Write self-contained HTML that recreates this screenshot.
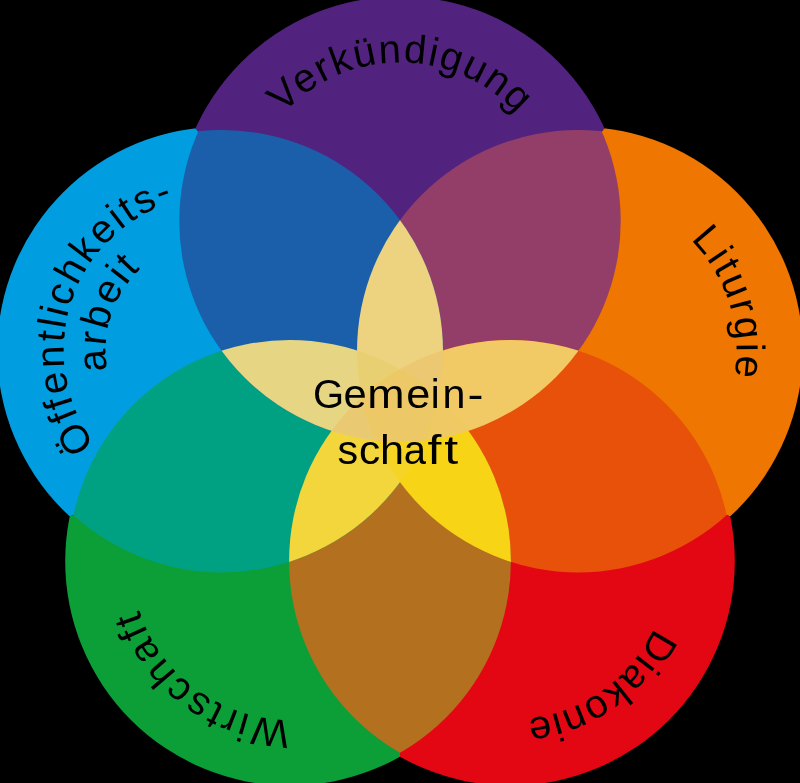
<!DOCTYPE html><html><head><meta charset="utf-8"><style>html,body{margin:0;padding:0;background:#000;width:800px;height:783px;overflow:hidden}svg{display:block}text{font-family:"Liberation Sans",sans-serif;fill:#000}</style></head><body>
<svg width="800" height="783" viewBox="0 0 800 783" style="will-change:transform"><defs>
<clipPath id="c0"><circle cx="400" cy="221" r="220.7"/></clipPath>
<clipPath id="w0"><polygon points="400,409 -482.96,-803.59 1282.96,-803.59"/></clipPath>
<clipPath id="c1"><circle cx="578.2" cy="351.2" r="221.2"/></clipPath>
<clipPath id="w1"><polygon points="400,409 1282.96,-803.59 1826.54,872.66"/></clipPath>
<clipPath id="c2"><circle cx="510.3" cy="561.2" r="221.2"/></clipPath>
<clipPath id="w2"><polygon points="400,409 1826.54,872.66 400,1909"/></clipPath>
<clipPath id="c3"><circle cx="289.7" cy="561.2" r="221.2"/></clipPath>
<clipPath id="w3"><polygon points="400,409 400,1909 -1026.54,872.66"/></clipPath>
<clipPath id="c4"><circle cx="221.8" cy="351.2" r="221.2"/></clipPath>
<clipPath id="w4"><polygon points="400,409 -1026.54,872.66 -482.96,-803.59"/></clipPath>
<path id="t0" d="M399.14,379.5 A158.5,158.5 0 0 1 400.86,62.5 A158.5,158.5 0 0 1 399.14,379.5"/>
<path id="t1" d="M426.89,398.39 A158.5,158.5 0 0 1 729.51,304.01 A158.5,158.5 0 0 1 426.89,398.39"/>
<path id="t2" d="M418.26,432.16 A158.5,158.5 0 0 1 602.34,690.24 A158.5,158.5 0 0 1 418.26,432.16"/>
<path id="t3" d="M383.44,433.39 A158.5,158.5 0 0 1 195.96,689.01 A158.5,158.5 0 0 1 383.44,433.39"/>
<path id="t4" d="M372.41,400.57 A158.5,158.5 0 0 1 71.19,301.83 A158.5,158.5 0 0 1 372.41,400.57"/>
<path id="t5" d="M332.34,387.97 A116.5,116.5 0 0 1 111.26,314.43 A116.5,116.5 0 0 1 332.34,387.97"/>
</defs>
<rect width="800" height="783" fill="#000"/>
<circle clip-path="url(#w0)" cx="400" cy="221" r="224.5" fill="#51237f"/>
<circle clip-path="url(#w1)" cx="578.2" cy="351.2" r="224.5" fill="#ee7601"/>
<circle clip-path="url(#w2)" cx="510.3" cy="561.2" r="224.5" fill="#e30613"/>
<circle clip-path="url(#w3)" cx="289.7" cy="561.2" r="224.5" fill="#0c9f38"/>
<circle clip-path="url(#w4)" cx="221.8" cy="351.2" r="224.5" fill="#009ee0"/>
<g clip-path="url(#c0)"><circle cx="578.2" cy="351.2" r="221.2" fill="#933e69"/></g>
<g clip-path="url(#c1)"><circle cx="510.3" cy="561.2" r="221.2" fill="#e8510a"/></g>
<g clip-path="url(#c2)"><circle cx="289.7" cy="561.2" r="221.2" fill="#b3701e"/></g>
<g clip-path="url(#c3)"><circle cx="221.8" cy="351.2" r="221.2" fill="#00a183"/></g>
<g clip-path="url(#c4)"><circle cx="400" cy="221" r="220.7" fill="#1b5faa"/></g>
<g clip-path="url(#c0)"><g clip-path="url(#c4)"><circle cx="578.2" cy="351.2" r="221.2" fill="#edd280"/></g></g>
<g clip-path="url(#c1)"><g clip-path="url(#c0)"><circle cx="510.3" cy="561.2" r="221.2" fill="#f1ca66"/></g></g>
<g clip-path="url(#c2)"><g clip-path="url(#c1)"><circle cx="289.7" cy="561.2" r="221.2" fill="#f8d417"/></g></g>
<g clip-path="url(#c3)"><g clip-path="url(#c2)"><circle cx="221.8" cy="351.2" r="221.2" fill="#f3d63b"/></g></g>
<g clip-path="url(#c4)"><g clip-path="url(#c3)"><circle cx="400" cy="221" r="220.7" fill="#e6d684"/></g></g>
<g clip-path="url(#c3)"><g clip-path="url(#c1)"><g clip-path="url(#c0)"><circle cx="221.8" cy="351.2" r="221.2" fill="#e8d072"/></g></g></g>
<g clip-path="url(#c2)"><g clip-path="url(#c1)"><g clip-path="url(#c0)"><circle cx="221.8" cy="351.2" r="221.2" fill="#edc872"/></g></g></g>
<g clip-path="url(#c3)"><g clip-path="url(#c2)"><g clip-path="url(#c0)"><circle cx="221.8" cy="351.2" r="221.2" fill="#e9c971"/></g></g></g>
<g clip-path="url(#c2)"><g clip-path="url(#c1)"><g clip-path="url(#c0)"><circle cx="289.7" cy="561.2" r="221.2" fill="#efc963"/></g></g></g>
<g clip-path="url(#c3)"><g clip-path="url(#c2)"><g clip-path="url(#c1)"><circle cx="221.8" cy="351.2" r="221.2" fill="#f5d425"/></g></g></g>
<g clip-path="url(#c3)"><g clip-path="url(#c2)"><g clip-path="url(#c1)"><g clip-path="url(#c0)"><circle cx="221.8" cy="351.2" r="221.2" fill="#ecc866"/></g></g></g></g>
<g font-size="40" letter-spacing="3">
<text letter-spacing="1.63"><textPath href="#t0" startOffset="50%" text-anchor="middle">Verkündigung</textPath></text>
<text letter-spacing="2.6"><textPath href="#t1" startOffset="50%" text-anchor="middle">Liturgie</textPath></text>
<text letter-spacing="1.11"><textPath href="#t2" startOffset="50%" text-anchor="middle">Diakonie</textPath></text>
<text letter-spacing="2.46"><textPath href="#t3" startOffset="50%" text-anchor="middle">Wirtschaft</textPath></text>
<text letter-spacing="2.34"><textPath href="#t4" startOffset="50%" text-anchor="middle">Öffentlichkeits-</textPath></text>
<text letter-spacing="2.25"><textPath href="#t5" startOffset="50%" text-anchor="middle">arbeit</textPath></text>
<text transform="translate(328,408) scale(1,1)" x="-15" letter-spacing="0">G</text>
<text transform="translate(355,408) scale(1.04,1)" x="-11" letter-spacing="0">e</text>
<text transform="translate(386.25,408) scale(1.12,1)" x="-17" letter-spacing="0">m</text>
<text transform="translate(418,408) scale(1.08,1)" x="-11" letter-spacing="0">e</text>
<text transform="translate(435.25,408) scale(1,1)" x="-4.5" letter-spacing="0">i</text>
<text transform="translate(454.25,408) scale(1.03,1)" x="-11.5" letter-spacing="0">n</text>
<text transform="translate(475.8,408) scale(1.2,1)" x="-7" letter-spacing="0">-</text>
<text transform="translate(348.25,464) scale(1.03,1)" x="-10.5" letter-spacing="0">s</text>
<text transform="translate(370,464) scale(1.06,1)" x="-10.5" letter-spacing="0">c</text>
<text transform="translate(392.35,464) scale(1.08,1)" x="-11.5" letter-spacing="0">h</text>
<text transform="translate(415.85,464) scale(1,1)" x="-12" letter-spacing="0">a</text>
<text transform="translate(435,464) scale(1.25,1)" x="-6" letter-spacing="0">f</text>
<text transform="translate(451.7,464) scale(1.25,1)" x="-6" letter-spacing="0">t</text>
</g>
</svg></body></html>
